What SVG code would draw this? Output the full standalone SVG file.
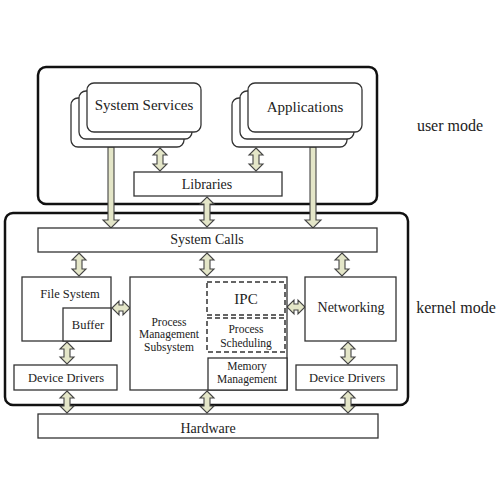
<svg xmlns="http://www.w3.org/2000/svg" width="500" height="500" viewBox="0 0 500 500">
<style>
.mode{fill:none;stroke:#111;stroke-width:2.5}
.box{fill:#fff;stroke:#333;stroke-width:1.3}
.dash{fill:#fff;stroke:#333;stroke-width:1.5;stroke-dasharray:5 3}
.arr{fill:#e4e6c8;stroke:#444;stroke-width:1.1;stroke-linejoin:miter}
text{fill:#222;text-anchor:middle}
.t15{font-size:15px}.t14{font-size:14px}.t12{font-size:12.5px}.t11{font-size:11.5px}.t16{font-size:16px}
</style>
<rect width="500" height="500" fill="#fff"/>
<g id="user-mode"><rect class="mode" x="38" y="67" width="339" height="137" rx="8"/></g>
<g id="kernel-mode"><rect class="mode" x="5" y="213" width="403" height="192" rx="8"/></g>
<g id="connectors">
<path class="arr" d="M108,147 L114,147 L114,220 L119,220 L111,228 L103,220 L108,220 Z"/>
<path class="arr" d="M310,147 L316,147 L316,220 L321,220 L313,228 L305,220 L310,220 Z"/>
<path class="arr" d="M160,148 L167,155 L163,155 L163,164 L167,164 L160,171 L153,164 L157,164 L157,155 L153,155 Z"/>
<path class="arr" d="M256,148 L263,155 L259,155 L259,164 L263,164 L256,171 L249,164 L253,164 L253,155 L249,155 Z"/>
<path class="arr" d="M207,197 L214,204 L210,204 L210,220 L214,220 L207,227 L200,220 L204,220 L204,204 L200,204 Z"/>
<path class="arr" d="M79,253 L86,260 L82,260 L82,269 L86,269 L79,276 L72,269 L76,269 L76,260 L72,260 Z"/>
<path class="arr" d="M207,253 L214,260 L210,260 L210,269 L214,269 L207,276 L200,269 L204,269 L204,260 L200,260 Z"/>
<path class="arr" d="M342,253 L349,260 L345,260 L345,269 L349,269 L342,276 L335,269 L339,269 L339,260 L335,260 Z"/>
<path class="arr" d="M67,342 L74,349 L70,349 L70,357 L74,357 L67,364 L60,357 L64,357 L64,349 L60,349 Z"/>
<path class="arr" d="M348,342 L355,349 L351,349 L351,357 L355,357 L348,364 L341,357 L345,357 L345,349 L341,349 Z"/>
<path class="arr" d="M67,391 L74,398 L70,398 L70,406 L74,406 L67,413 L60,406 L64,406 L64,398 L60,398 Z"/>
<path class="arr" d="M207,391 L214,398 L210,398 L210,406 L214,406 L207,413 L200,406 L204,406 L204,398 L200,398 Z"/>
<path class="arr" d="M348,391 L355,398 L351,398 L351,406 L355,406 L348,413 L341,406 L345,406 L345,398 L341,398 Z"/>
<path class="arr" d="M112,308 L119,301 L119,305 L123,305 L123,301 L130,308 L123,315 L123,311 L119,311 L119,315 Z"/>
<path class="arr" d="M287,307 L294,300 L294,304 L298,304 L298,300 L305,307 L298,314 L298,310 L294,310 L294,314 Z"/>
</g>
<g font-family="'Liberation Serif', 'Times New Roman', 'DejaVu Serif', serif">
<g id="system-services">
<rect class="box" x="71" y="98" width="113" height="49" rx="7"/>
<rect class="box" x="79" y="91" width="113" height="48" rx="7"/>
<rect class="box" x="87" y="83" width="114" height="49" rx="7"/>
<text class="t15" x="144" y="110">System Services</text>
</g>
<g id="applications">
<rect class="box" x="232" y="98" width="115" height="49" rx="7"/>
<rect class="box" x="240" y="91" width="114" height="48" rx="7"/>
<rect class="box" x="248" y="83" width="114" height="49" rx="7"/>
<text class="t15" x="305" y="112">Applications</text>
</g>
<g id="libraries"><rect class="box" x="134" y="172" width="148" height="24"/><text class="t14" x="207" y="189">Libraries</text></g>
<g id="system-calls"><rect class="box" x="38" y="228" width="339" height="24"/><text class="t14" x="207" y="244">System Calls</text></g>
<g id="file-system">
<rect class="box" x="22" y="277" width="89" height="64"/>
<text class="t12" x="70" y="298">File System</text>
<rect class="box" x="63" y="308" width="48" height="33"/>
<text class="t12" x="88" y="329">Buffer</text>
</g>
<g id="process-management">
<rect class="box" x="130" y="277" width="157" height="113"/>
<text class="t11" x="169" y="326">Process</text>
<text class="t11" x="169" y="338">Management</text>
<text class="t11" x="169" y="351">Subsystem</text>
</g>
<g id="ipc"><rect class="dash" x="207" y="282" width="78" height="33"/><text class="t15" x="246" y="304">IPC</text></g>
<g id="process-scheduling"><rect class="dash" x="207" y="318" width="78" height="34"/><text class="t11" x="246" y="333">Process</text><text class="t11" x="246" y="347">Scheduling</text></g>
<g id="memory-management"><rect class="box" x="208" y="358" width="79" height="32"/><text class="t11" x="247" y="370">Memory</text><text class="t11" x="247" y="383">Management</text></g>
<g id="networking"><rect class="box" x="305" y="277" width="91" height="64"/><text class="t14" x="351" y="312">Networking</text></g>
<g id="device-drivers-left"><rect class="box" x="14" y="365" width="103" height="25"/><text class="t12" x="66" y="382">Device Drivers</text></g>
<g id="device-drivers-right"><rect class="box" x="296" y="365" width="101" height="25"/><text class="t12" x="347" y="382">Device Drivers</text></g>
<g id="hardware"><rect class="box" x="38" y="414" width="340" height="24"/><text class="t14" x="208" y="433">Hardware</text></g>
<g id="labels">
<text class="t16" x="450" y="131">user mode</text>
<text class="t16" x="456" y="313">kernel mode</text>
</g>
</g>
</svg>
